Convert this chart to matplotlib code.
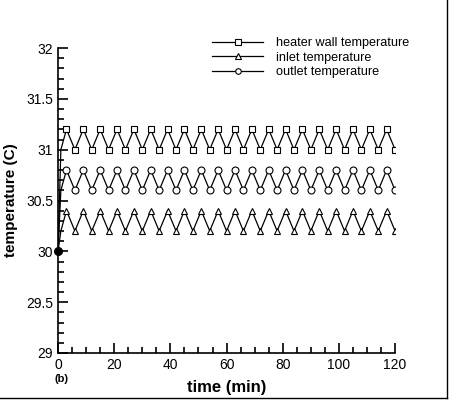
import matplotlib
matplotlib.use("Agg")
import matplotlib.pyplot as plt
from matplotlib.lines import Line2D
from matplotlib.ticker import MultipleLocator

plt.rcParams["font.family"] = ["Liberation Sans", "DejaVu Sans"]

# 時間點：起始段 + 每 3 分鐘一個峰/谷
time_start = [0, 1]
time_cycle = list(range(3, 121, 3))
time_min = time_start + time_cycle

heater_start = [30.0, 31.0]
inlet_start = [30.0, 30.2]
outlet_start = [30.0, 30.6]

heater_peak, heater_trough = 31.2, 31.0
inlet_peak, inlet_trough = 30.4, 30.2
outlet_peak, outlet_trough = 30.8, 30.6


def cycle(peak, trough):
    return [peak if (t // 3) % 2 == 1 else trough for t in time_cycle]


heater_wall = heater_start + cycle(heater_peak, heater_trough)
inlet = inlet_start + cycle(inlet_peak, inlet_trough)
outlet = outlet_start + cycle(outlet_peak, outlet_trough)

fig = plt.figure(figsize=(4.5, 4.0), dpi=100)
ax = fig.add_axes([0.129, 0.1175, 0.749, 0.7625])

marks = list(range(len(time_start), len(time_min)))
mk = dict(color="black", lw=0.9, mfc="white", mec="black", mew=0.8, ms=5, markevery=marks)
ax.plot(time_min, heater_wall, marker="s", label="heater wall temperature", **mk)
ax.plot(time_min, inlet, marker="^", label="inlet temperature", **mk)
ax.plot(time_min, outlet, marker="o", label="outlet temperature", **mk)
ax.plot([0], [30], marker="o", color="black", ms=5.5, clip_on=False)

ax.set_xlim(0, 120)
ax.set_ylim(29, 32)
ax.xaxis.set_major_locator(MultipleLocator(20))
ax.xaxis.set_minor_locator(MultipleLocator(5))
ax.yaxis.set_major_locator(MultipleLocator(0.5))
ax.yaxis.set_minor_locator(MultipleLocator(0.1))
ax.yaxis.set_major_formatter(plt.FuncFormatter(lambda v, p: f"{v:g}"))
ax.tick_params(which="both", direction="in", top=False, right=False, labelsize=10, width=1.2)
ax.tick_params(which="major", length=7)
ax.tick_params(which="minor", length=4)
for s in ("top", "right"):
    ax.spines[s].set_visible(False)
for s in ("left", "bottom"):
    ax.spines[s].set_linewidth(1.2)

ax.set_xlabel("time (min)", fontsize=12, fontweight="bold", labelpad=6)
ax.set_ylabel("temperature (C)", fontsize=11, fontweight="bold", labelpad=6)
fig.text(0.122, 0.045, "(b)", fontsize=8, fontweight="bold")

ax.legend(loc="upper left", bbox_to_anchor=(0.458, 0.923), bbox_transform=fig.transFigure,
          frameon=False, fontsize=9.1, handlelength=4.0, handletextpad=1.0,
          labelspacing=0.2, borderpad=0, markerscale=0.8)

# 截圖邊框（右、下）
fig.add_artist(Line2D([0.994, 0.994], [0.005, 1.0], transform=fig.transFigure, color="black", lw=1))
fig.add_artist(Line2D([0.0, 0.994], [0.005, 0.005], transform=fig.transFigure, color="black", lw=1))

fig.savefig("out.png", dpi=100)
